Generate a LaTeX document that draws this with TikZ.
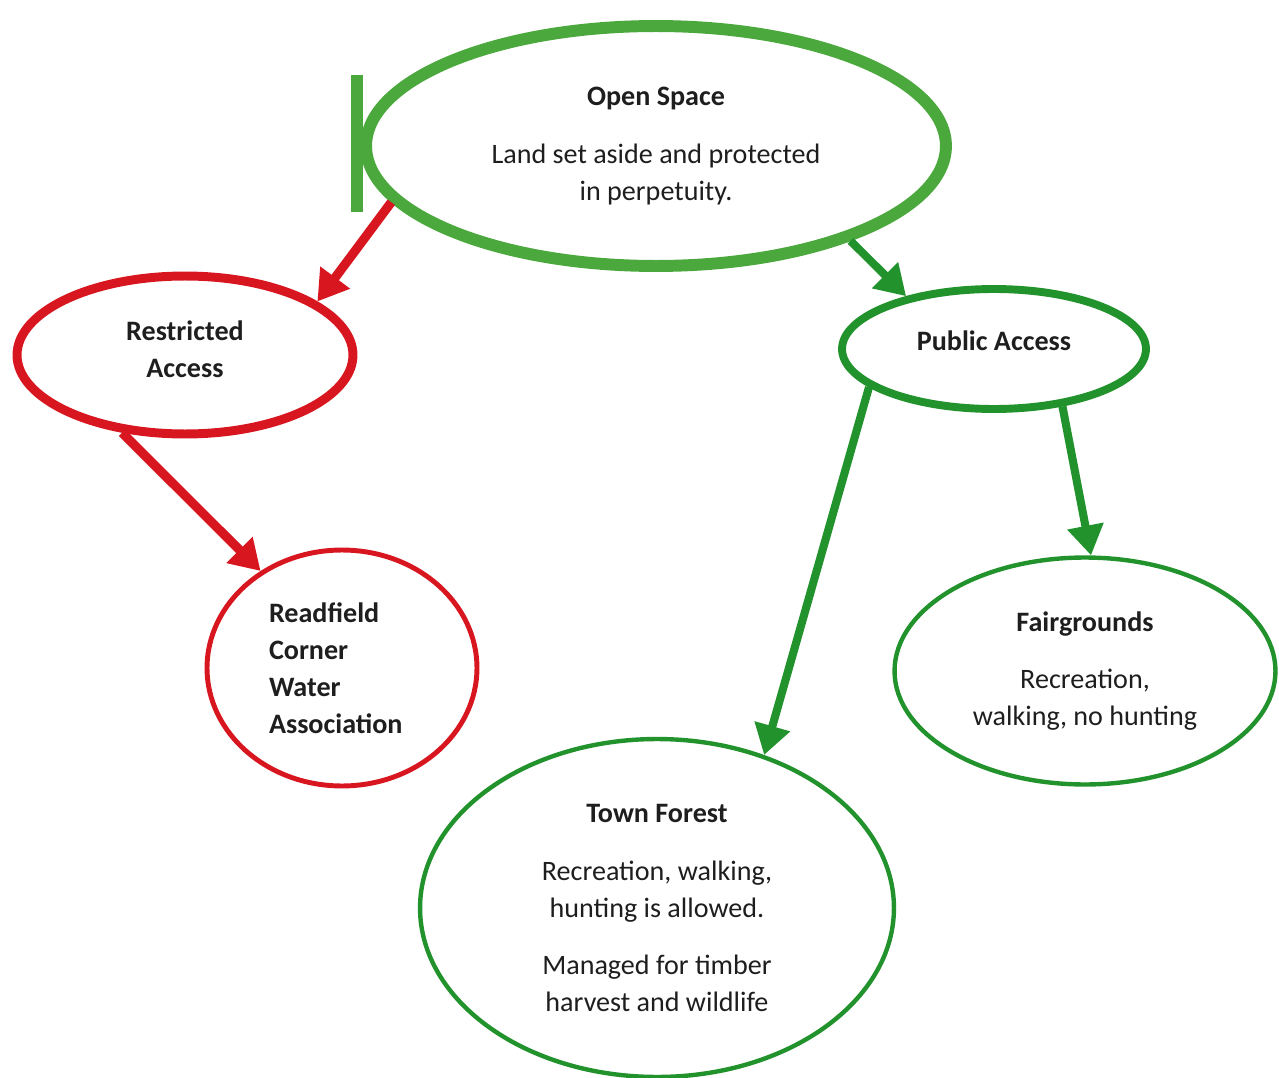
\documentclass[tikz,border=0pt]{standalone}
\usepackage{fontspec}
\setmainfont{Carlito}
\usetikzlibrary{shapes.geometric,arrows.meta}
\definecolor{osgreen}{RGB}{74,168,60}
\definecolor{dkgreen}{RGB}{34,146,44}
\definecolor{rdred}{RGB}{216,22,32}
\definecolor{txt}{RGB}{30,30,30}

\begin{document}
\begin{tikzpicture}[x=0.02cm,y=-0.02cm,
bubble/.style={ellipse,draw,inner sep=0pt,align=center,text=txt,font=\fontsize{16}{21}\selectfont},
link/.style={-{Triangle[length=17pt,width=20pt]}},
redlink/.style={link,draw=rdred,fill=rdred,line width=5.2pt},
greenlink/.style={link,draw=dkgreen,fill=dkgreen,line width=4.6pt}]

    \useasboundingbox (0,0) rectangle (1279,1078);

    \node [bubble, draw=osgreen, line width=6.8pt, minimum width=11.6cm, minimum height=4.8cm] (os) at (656,146)
        {\textbf{Open Space}\\[12pt]Land set aside and protected\\in perpetuity.};
    \node [bubble, draw=rdred, line width=5.1pt, minimum width=6.72cm, minimum height=3.16cm, text depth=7pt] (ra) at (185,355)
        {\textbf{Restricted}\\\textbf{Access}};
    \node [bubble, draw=rdred, line width=2.8pt, minimum width=5.4cm, minimum height=4.72cm, align=left, text width=2.92cm] (rcwa) at (342,668)
        {\textbf{Readfield}\\\textbf{Corner}\\\textbf{Water}\\\textbf{Association}};
    \node [bubble, draw=dkgreen, line width=4.5pt, minimum width=6.08cm, minimum height=2.4cm, text depth=10pt] (pa) at (994,349)
        {\textbf{Public Access}};
    \node [bubble, draw=dkgreen, line width=2.5pt, minimum width=7.62cm, minimum height=4.54cm] (fg) at (1085,671)
        {\textbf{Fairgrounds}\\[12pt]Recreation,\\walking, no hunting};
    \node [bubble, draw=dkgreen, line width=2.5pt, minimum width=9.48cm, minimum height=6.76cm] (tf) at (657,908)
        {\textbf{Town Forest}\\[12pt]Recreation, walking,\\hunting is allowed.\\[12pt]Managed for timber\\harvest and wildlife};

    \draw [osgreen, line width=7pt] (357,75) -- (357,212);

    \draw [redlink] (os.192) -- (ra.22);
    \draw [redlink] (ra.231) -- (rcwa.130);
    \draw [greenlink] (os.334) -- (pa.149);
    \draw [greenlink] (pa.197) -- (tf.55);
    \draw [greenlink] (pa.320) -- (fg.87);
\end{tikzpicture}
\end{document}
